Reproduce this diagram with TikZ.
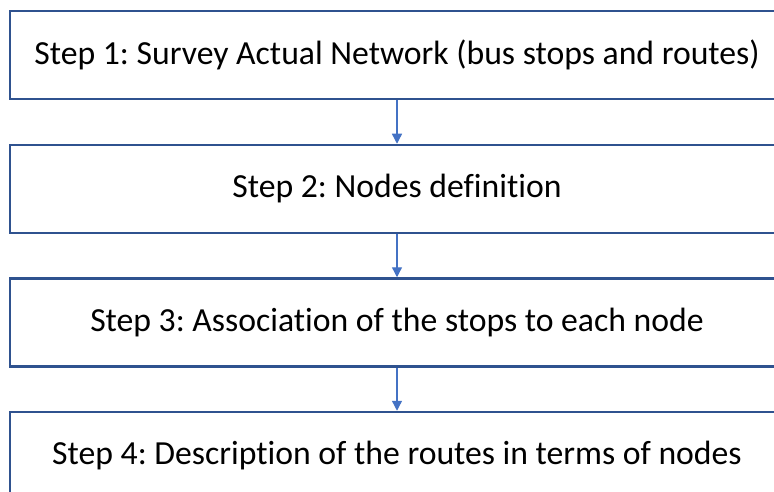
\documentclass[tikz,border=0pt]{standalone}
\usepackage{fontspec}
\setmainfont{Carlito}[Ligatures=NoCommon]
\usetikzlibrary{arrows.meta}
\definecolor{boxline}{HTML}{2F528F}
\definecolor{arrowline}{HTML}{4472C4}
\frenchspacing
\begin{document}
\begin{tikzpicture}[x=1pt,y=1pt,
  stepbox/.style={draw=boxline, line width=2.5pt, fill=white, minimum width=774pt, minimum height=88pt, inner sep=0pt, font=\fontsize{33.7}{38}\selectfont},
  arr/.style={draw=arrowline, line width=1.3pt, -{Triangle[length=10pt,width=10pt]}}]
\useasboundingbox (0,0) rectangle (774,-492);
\node[stepbox] (b1) at (397,-55) {Step 1: Survey Actual Network (bus stops and routes)};
\node[stepbox] (b2) at (397,-189) {Step 2: Nodes definition};
\node[stepbox] (b3) at (397,-322.5) {Step 3: Association of the stops to each node};
\node[stepbox] (b4) at (397,-456) {Step 4: Description of the routes in terms of nodes};
\draw[arr] (b1.south) -- (b2.north);
\draw[arr] (b2.south) -- (b3.north);
\draw[arr] (b3.south) -- (b4.north);
\end{tikzpicture}
\end{document}
